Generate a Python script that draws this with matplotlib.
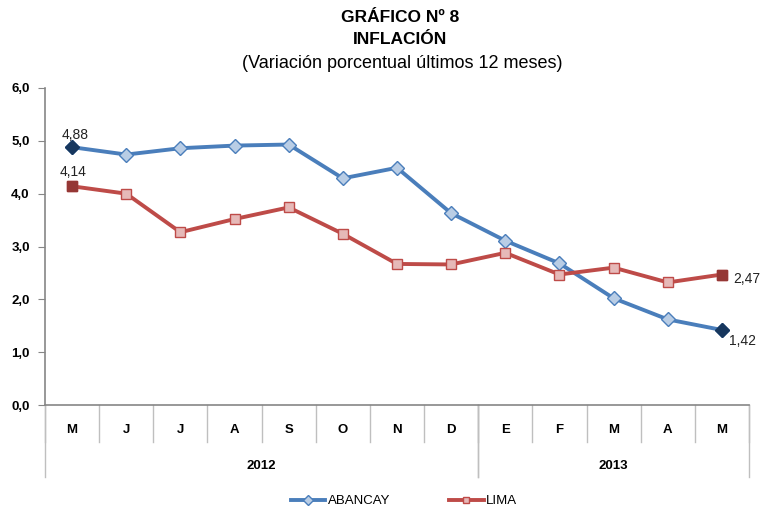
import numpy as np
import matplotlib
matplotlib.use("Agg")
import matplotlib.pyplot as plt
import matplotlib.transforms as mtransforms

plt.rcParams['font.family'] = ['Liberation Sans', 'DejaVu Sans']

# data
months = ["M", "J", "J", "A", "S", "O", "N", "D", "E", "F", "M", "A", "M"]
years = ["2012", "2013"]
year_spans = [(0, 8), (8, 13)]  # month index ranges per year
abancay = [4.88, 4.74, 4.86, 4.91, 4.93, 4.29, 4.49, 3.63, 3.11, 2.68, 2.02, 1.62, 1.42]
lima = [4.14, 4.00, 3.27, 3.52, 3.74, 3.24, 2.67, 2.66, 2.88, 2.47, 2.60, 2.32, 2.47]

blue = "#4A7EBB"
blue_fill = "#B9CDE5"
blue_dark = "#17375E"
red = "#BE4B48"
red_fill = "#E6B9B8"
red_dark = "#953735"
grey = "#868686"

fig = plt.figure(figsize=(7.61, 5.08), dpi=100)
ax = fig.add_axes([45 / 761, 103 / 508, 704 / 761, 317 / 508])

x = np.arange(len(months))
ax.plot(x, abancay, color=blue, lw=2.8, marker="D", ms=7.5, mfc=blue_fill,
        mec=blue, mew=1.0, label="ABANCAY", zorder=3)
ax.plot(x, lima, color=red, lw=2.8, marker="s", ms=7, mfc=red_fill,
        mec=red, mew=1.0, label="LIMA", zorder=3)

# highlighted end points
for i in (0, len(x) - 1):
    ax.plot(x[i], abancay[i], marker="D", ms=7.5, mfc=blue_dark, mec=blue_dark, zorder=4)
    ax.plot(x[i], lima[i], marker="s", ms=7, mfc=red_dark, mec=red_dark, zorder=4)

def fmt(v):
    return f"{v:.2f}".replace(".", ",")

lab = dict(fontsize=10, color="#222222")
ax.annotate(fmt(abancay[0]), (x[0], abancay[0]), xytext=(2, 4), textcoords="offset points",
            ha="center", va="bottom", **lab)
ax.annotate(fmt(lima[0]), (x[0], lima[0]), xytext=(1, 5), textcoords="offset points",
            ha="center", va="bottom", **lab)
ax.annotate(fmt(lima[-1]), (x[-1], lima[-1]), xytext=(8, -3), textcoords="offset points",
            ha="left", va="center", **lab)
ax.annotate(fmt(abancay[-1]), (x[-1], abancay[-1]), xytext=(5, -8), textcoords="offset points",
            ha="left", va="center", **lab)

ax.set_xlim(-0.5, len(months) - 0.5)
ax.set_ylim(0, 6)
ax.set_yticks(np.arange(0, 6.1, 1.0))
ax.set_yticklabels([f"{v:.1f}".replace(".", ",") for v in np.arange(0, 6.1, 1.0)],
                   fontsize=9.5, fontweight="bold")
ax.tick_params(axis="y", direction="out", length=5, color=grey, pad=6)
ax.set_xticks([])

for s in ("top", "right"):
    ax.spines[s].set_visible(False)
for s in ("left", "bottom"):
    ax.spines[s].set_color(grey)
    ax.spines[s].set_linewidth(1.2)

# two-level category axis
trans = mtransforms.blended_transform_factory(ax.transData, ax.transAxes)
for b in np.arange(-0.5, len(months), 1.0):
    ax.plot([b, b], [0, -0.117], transform=trans, color="#BFBFBF", lw=1, clip_on=False)
for i, m in enumerate(months):
    ax.text(i, -0.079, m, transform=trans, ha="center", va="center",
            fontsize=9.5, fontweight="bold")
for (a, b), yr in zip(year_spans, years):
    for e in (a - 0.5, b - 0.5):
        ax.plot([e, e], [0, -0.227], transform=trans, color="#BFBFBF", lw=1, clip_on=False)
    ax.text((a + b - 1) / 2, -0.192, yr, transform=trans, ha="center", va="center",
            fontsize=9.5, fontweight="bold")

fig.text(400 / 761, 1 - 18 / 508, "GRÁFICO Nº 8", ha="center", va="center",
         fontsize=12.5, fontweight="bold")
fig.text(400 / 761, 1 - 40 / 508, "INFLACIÓN", ha="center", va="center",
         fontsize=12.5, fontweight="bold")
fig.text(402 / 761, 1 - 63 / 508, "(Variación porcentual últimos 12 meses)",
         ha="center", va="center", fontsize=13)

fig.legend(loc="center", bbox_to_anchor=(404 / 761, 1 - 501 / 508), ncol=2, frameon=False,
           fontsize=9.5, handlelength=2.6, handletextpad=0.2, columnspacing=4.5,
           markerscale=0.7)

fig.savefig("out.png", dpi=100)
